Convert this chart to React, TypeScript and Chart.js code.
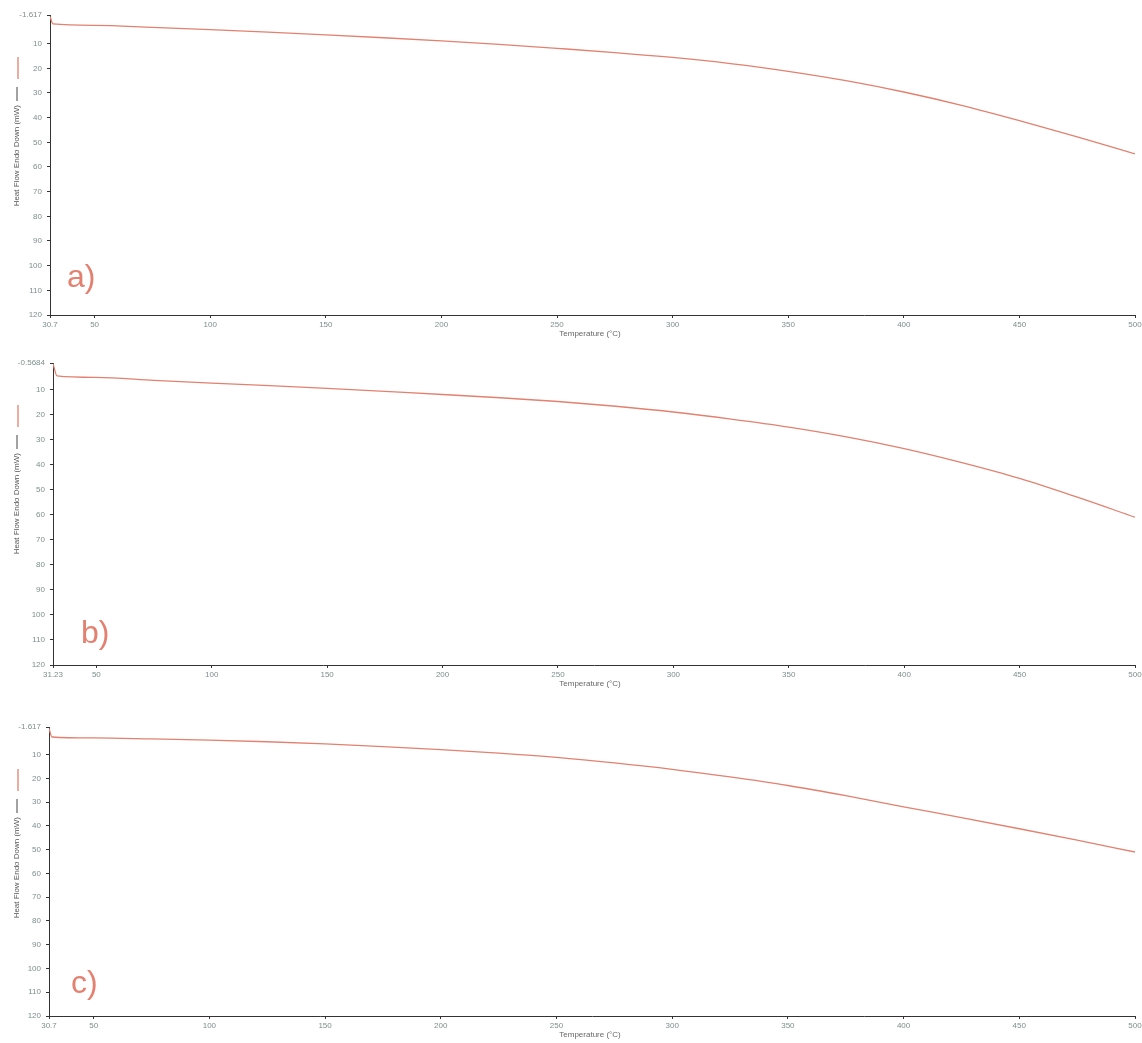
import React, { useEffect, useRef } from "react";
import { Chart, registerables } from "chart.js";

Chart.register(...registerables);

// ---- data ----
const tempsA = [30.7, 32, 50, 75, 100, 125, 150, 175, 200, 225, 250, 275, 300, 325, 350, 375, 400, 425, 450, 475, 500];
const heatFlowA = [-1.0, 2.0, 2.6, 3.4, 4.3, 5.3, 6.4, 7.6, 8.9, 10.3, 11.9, 13.6, 15.6, 18.1, 21.2, 25.0, 29.6, 35.0, 41.2, 47.8, 54.7];

const tempsB = [31.23, 33, 50, 75, 100, 125, 150, 175, 200, 225, 250, 275, 300, 325, 350, 375, 400, 425, 450, 475, 500];
const heatFlowB = [-0.3, 4.6, 5.2, 6.4, 7.5, 8.5, 9.6, 10.8, 12.0, 13.3, 14.8, 16.7, 19.0, 21.8, 25.0, 28.9, 33.6, 39.2, 45.5, 53.0, 61.0];

const tempsC = [30.7, 32, 50, 75, 100, 125, 150, 175, 200, 225, 250, 275, 300, 325, 350, 375, 400, 425, 450, 475, 500];
const heatFlowC = [-1.0, 2.6, 3.0, 3.4, 3.9, 4.6, 5.5, 6.6, 7.9, 9.4, 11.2, 13.5, 16.2, 19.4, 23.0, 27.3, 32.0, 36.5, 41.2, 46.0, 51.0];

const xTickValues = [50, 100, 150, 200, 250, 300, 350, 400, 450, 500];
const yTickValues = [10, 20, 30, 40, 50, 60, 70, 80, 90, 100, 110, 120];

const panelLetters = ["a)", "b)", "c)"];
const xTitle = "Temperature (°C)";
const yTitle = "Heat Flow Endo Down (mW)";

const LINE_COLOR = "#e3806f";
const AXIS_COLOR = "#333333";
const TICK_COLOR = "#7d8f8c";

interface PanelSpec {
  temps: number[];
  values: number[];
  xMin: number;
  xMinLabel: string;
  yMin: number;
  yMinLabel: string;
  letter: string;
  height: number;
  top: number;
  padTop: number;
  axisLeft: number;
  xAxisHeight: number;
  letterX: number;
  letterDy: number;
}

const panels: PanelSpec[] = [
  {
    temps: tempsA, values: heatFlowA, xMin: 30.7, xMinLabel: "30.7", yMin: -1.617, yMinLabel: "-1.617",
    letter: panelLetters[0], height: 345, top: 0, padTop: 15, axisLeft: 50, xAxisHeight: 30, letterX: 67, letterDy: -28,
  },
  {
    temps: tempsB, values: heatFlowB, xMin: 31.23, xMinLabel: "31.23", yMin: -0.5684, yMinLabel: "-0.5684",
    letter: panelLetters[1], height: 350, top: 345, padTop: 18, axisLeft: 53, xAxisHeight: 30, letterX: 81, letterDy: -22,
  },
  {
    temps: tempsC, values: heatFlowC, xMin: 30.7, xMinLabel: "30.7", yMin: -1.617, yMinLabel: "-1.617",
    letter: panelLetters[2], height: 348, top: 695, padTop: 32, axisLeft: 49, xAxisHeight: 27, letterX: 71, letterDy: -23,
  },
];

function Panel({ spec }: { spec: PanelSpec }) {
  const ref = useRef<HTMLCanvasElement | null>(null);
  useEffect(() => {
    if (!ref.current) return;
    const decor = {
      id: "decor",
      afterDraw(chart: any) {
        const { ctx, chartArea } = chart;
        ctx.save();
        // panel letter
        ctx.fillStyle = LINE_COLOR;
        ctx.font = "32px Arial, 'Liberation Sans', sans-serif";
        ctx.textAlign = "left";
        ctx.textBaseline = "alphabetic";
        ctx.fillText(spec.letter, spec.letterX, chartArea.bottom + spec.letterDy);
        // x title
        ctx.fillStyle = "#666";
        ctx.font = "8px Arial, 'Liberation Sans', sans-serif";
        ctx.textAlign = "center";
        ctx.textBaseline = "middle";
        ctx.fillText(xTitle, 590, chartArea.bottom + 19);
        // y legend marks
        const top = chartArea.top;
        ctx.strokeStyle = LINE_COLOR;
        ctx.lineWidth = 1.3;
        ctx.beginPath();
        ctx.moveTo(18, top + 42);
        ctx.lineTo(18, top + 64);
        ctx.stroke();
        ctx.strokeStyle = "#444";
        ctx.lineWidth = 1;
        ctx.beginPath();
        ctx.moveTo(17, top + 72);
        ctx.lineTo(17, top + 86);
        ctx.stroke();
        // y title
        ctx.translate(17, top + 90);
        ctx.rotate(-Math.PI / 2);
        ctx.fillStyle = "#555";
        ctx.font = "8px Arial, 'Liberation Sans', sans-serif";
        ctx.textAlign = "right";
        ctx.textBaseline = "middle";
        ctx.fillText(yTitle, 0, 0);
        ctx.restore();
      },
    };
    const chart = new Chart(ref.current, {
      type: "line",
      data: {
        datasets: [
          {
            data: spec.temps.map((t, i) => ({ x: t, y: spec.values[i] })),
            borderColor: LINE_COLOR,
            borderWidth: 1.3,
            pointRadius: 0,
            cubicInterpolationMode: "monotone",
            fill: false,
          },
        ],
      },
      options: {
        animation: false,
        responsive: false,
        layout: { padding: { top: spec.padTop, left: 0, right: 7, bottom: 0 } },
        plugins: { legend: { display: false }, tooltip: { enabled: false } },
        scales: {
          x: {
            type: "linear",
            min: spec.xMin,
            max: 500,
            afterBuildTicks: (axis: any) => {
              axis.ticks = [spec.xMin, ...xTickValues].map((v) => ({ value: v }));
            },
            afterFit: (scale: any) => {
              scale.height = spec.xAxisHeight;
              scale.paddingLeft = 0;
              scale.paddingRight = 0;
            },
            ticks: {
              autoSkip: false,
              maxRotation: 0,
              padding: 2,
              color: TICK_COLOR,
              font: { size: 8, family: "Arial, 'Liberation Sans', sans-serif" },
              callback: (v: any) => (v === spec.xMin ? spec.xMinLabel : String(v)),
            },
            grid: { display: true, drawOnChartArea: false, drawTicks: true, tickLength: 3, color: AXIS_COLOR },
            border: { display: true, color: AXIS_COLOR, width: 1 },
          },
          y: {
            type: "linear",
            reverse: true,
            min: spec.yMin,
            max: 120,
            afterBuildTicks: (axis: any) => {
              axis.ticks = [spec.yMin, ...yTickValues].map((v) => ({ value: v }));
            },
            afterFit: (scale: any) => {
              scale.width = spec.axisLeft;
              scale.paddingTop = 0;
              scale.paddingBottom = 0;
            },
            ticks: {
              autoSkip: false,
              padding: 5,
              color: TICK_COLOR,
              font: { size: 8, family: "Arial, 'Liberation Sans', sans-serif" },
              callback: (v: any) => (v === spec.yMin ? spec.yMinLabel : String(v)),
            },
            grid: { display: true, drawOnChartArea: false, drawTicks: true, tickLength: 3, color: AXIS_COLOR },
            border: { display: true, color: AXIS_COLOR, width: 1 },
          },
        },
      } as any,
      plugins: [decor],
    });
    return () => chart.destroy();
  }, [spec]);
  return (
    <canvas
      ref={ref}
      width={1142}
      height={spec.height}
      style={{ position: "absolute", left: 0, top: spec.top, display: "block", width: 1142, height: spec.height }}
    />
  );
}

export default function App() {
  return (
    <div style={{ position: "absolute", left: 0, top: 0, width: 1142, height: 1043, background: "#fff", overflow: "hidden" }}>
      {panels.map((p, i) => (
        <Panel key={i} spec={p} />
      ))}
    </div>
  );
}
